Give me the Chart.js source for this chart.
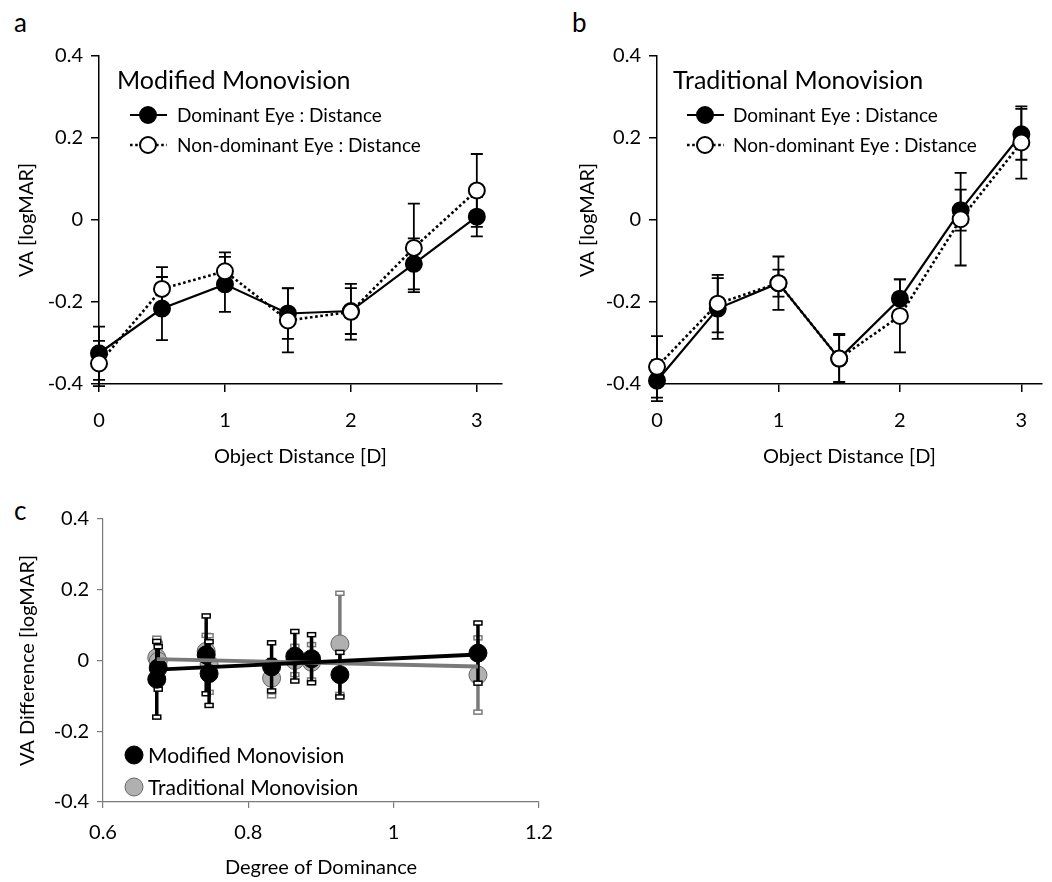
<!DOCTYPE html>
<html>
<head>
<meta charset="utf-8">
<script src="https://cdn.jsdelivr.net/npm/chart.js@4.4.1/dist/chart.umd.min.js"></script>
<style>
  body { margin: 0; background: #fff; }
  #page { position: relative; width: 1052px; height: 882px; background: #fff; font-family: Lato, sans-serif; }
  #page canvas { position: absolute; }
  .letter { position: absolute; font-size: 26px; color: #000; line-height: 1; }
</style>
</head>
<body>
<div id="page">
  <div class="letter" style="left:14px; top:9px;">a</div>
  <div class="letter" style="left:572px; top:9px;">b</div>
  <div class="letter" style="left:14px; top:497px;">c</div>
  <canvas id="chartA" width="520" height="480" style="left:0; top:0;"></canvas>
  <canvas id="chartB" width="532" height="480" style="left:520px; top:0;"></canvas>
  <canvas id="chartC" width="600" height="402" style="left:0; top:480px;"></canvas>
</div>
<script>
// object distance [D] and tick labels
const distances = [0, 0.5, 1, 1.5, 2, 2.5, 3];
const distTicks = [0, 1, 2, 3];
const vaTicks = [-0.4, -0.2, 0, 0.2, 0.4];

// a: modified monovision (mean, error)
const modDomVA = [-0.325, -0.216, -0.157, -0.228, -0.222, -0.107, 0.008];
const modDomErr = [0.065, 0.077, 0.067, 0.062, 0.056, 0.062, 0.048];
const modNonVA = [-0.350, -0.168, -0.125, -0.245, -0.224, -0.068, 0.072];
const modNonErr = [0.055, 0.053, 0.046, 0.078, 0.068, 0.108, 0.089];

// b: traditional monovision
const tradDomVA = [-0.392, -0.216, -0.154, -0.338, -0.192, 0.024, 0.209];
const tradDomErr = [0.050, 0.074, 0.065, 0.060, 0.047, 0.050, 0.062];
const tradNonVA = [-0.358, -0.204, -0.154, -0.338, -0.234, 0.002, 0.189];
const tradNonErr = [0.075, 0.070, 0.033, 0.057, 0.089, 0.113, 0.088];

// c: VA difference vs degree of dominance
const dominance = [0.674, 0.676, 0.742, 0.746, 0.832, 0.864, 0.887, 0.926, 1.116];
const domTicks = [0.6, 0.8, 1, 1.2];
const modDiff = [-0.053, -0.021, 0.016, -0.037, -0.018, 0.012, 0.005, -0.040, 0.021];
const modDiffErr = [0.107, 0.060, 0.110, 0.090, 0.068, 0.070, 0.068, 0.063, 0.085];
const tradDiff = [0.008, -0.002, 0.026, -0.010, -0.050, 0.000, -0.005, 0.047, -0.041];
const tradDiffErr = [0.055, 0.050, 0.045, 0.080, 0.050, 0.040, 0.050, 0.143, 0.105];
const fitX = [0.674, 1.116];
const modFit = [-0.026, 0.017];
const tradFit = [0.004, -0.017];

const FONT = 'Lato, sans-serif';
const GREY = '#7a7a7a';

const toPoints = (xs, ys) => xs.map((x, i) => ({x: x, y: ys[i]}));

// vertical error bars, drawn under each dataset
const errorBars = {
    id: 'errorBars',
    beforeDatasetDraw(chart, args) {
        const ds = chart.data.datasets[args.index];
        if (!ds.errors) return;
        const ctx = chart.ctx;
        const yScale = chart.scales.y;
        ctx.save();
        ctx.strokeStyle = ds.errorColor;
        ctx.lineWidth = ds.errorWidth;
        args.meta.data.forEach((el, i) => {
            const v = ds.data[i].y;
            const top = yScale.getPixelForValue(v + ds.errors[i]);
            const bot = yScale.getPixelForValue(v - ds.errors[i]);
            ctx.beginPath();
            ctx.moveTo(el.x, top);
            ctx.lineTo(el.x, bot);
            ctx.stroke();
            if (ds.capBox) {
                // little hollow caps like in panel c
                ctx.save();
                ctx.lineWidth = 1.5;
                ctx.fillStyle = '#fff';
                [top, bot].forEach(y => {
                    ctx.fillRect(el.x - 4, y - 2, 8, 4);
                    ctx.strokeRect(el.x - 4, y - 2, 8, 4);
                });
                ctx.restore();
            } else {
                ctx.beginPath();
                ctx.moveTo(el.x - 6, top); ctx.lineTo(el.x + 6, top);
                ctx.moveTo(el.x - 6, bot); ctx.lineTo(el.x + 6, bot);
                ctx.stroke();
            }
        });
        ctx.restore();
    }
};

// title + legend drawn inside the plot
const panelKey = {
    id: 'panelKey',
    afterDraw(chart, args, opts) {
        const ctx = chart.ctx;
        ctx.save();
        ctx.fillStyle = '#000';
        ctx.textBaseline = 'middle';
        if (opts.title) {
            ctx.font = '25px ' + FONT;
            ctx.fillText(opts.title, opts.titleX, opts.titleY);
        }
        opts.items.forEach((item, i) => {
            const ds = chart.data.datasets[item.dataset];
            const y = opts.itemY + i * opts.rowGap;
            if (opts.sampleLine) {
                ctx.save();
                ctx.strokeStyle = ds.borderColor;
                ctx.lineWidth = ds.borderWidth;
                ctx.setLineDash(ds.borderDash || []);
                ctx.beginPath();
                ctx.moveTo(opts.markX - 18, y);
                ctx.lineTo(opts.markX + 19, y);
                ctx.stroke();
                ctx.restore();
            }
            ctx.beginPath();
            ctx.arc(opts.markX, y, ds.pointRadius, 0, Math.PI * 2);
            ctx.fillStyle = ds.pointBackgroundColor;
            ctx.fill();
            ctx.lineWidth = ds.pointBorderWidth;
            ctx.strokeStyle = ds.pointBorderColor;
            ctx.stroke();
            ctx.fillStyle = '#000';
            ctx.font = opts.textFont;
            ctx.fillText(item.label, opts.textX, y + 1);
        });
        ctx.restore();
    }
};

function eyeDatasets(domVA, domErr, nonVA, nonErr) {
    return [
        {
            label: 'Dominant Eye : Distance',
            data: toPoints(distances, domVA),
            errors: domErr, errorColor: '#000', errorWidth: 1.8,
            borderColor: '#000', borderWidth: 2.2,
            pointRadius: 8, pointBackgroundColor: '#000', pointBorderColor: '#000', pointBorderWidth: 2,
            clip: false, order: 2
        },
        {
            label: 'Non-dominant Eye : Distance',
            data: toPoints(distances, nonVA),
            errors: nonErr, errorColor: '#000', errorWidth: 1.8,
            borderColor: '#000', borderWidth: 2.6, borderDash: [2.6, 2.6],
            pointRadius: 8, pointBackgroundColor: '#fff', pointBorderColor: '#000', pointBorderWidth: 2,
            clip: false, order: 1
        }
    ];
}

function axisFont(size) {
    return {family: FONT, size: size};
}

function eyeOptions(opt) {
    return {
        responsive: false,
        animation: false,
        events: [],
        layout: {padding: {left: 0, top: 56, right: opt.padRight, bottom: 0}},
        plugins: {
            legend: {display: false},
            tooltip: {enabled: false},
            panelKey: opt.key
        },
        scales: {
            x: {
                type: 'linear', min: 0, max: opt.xMax,
                afterBuildTicks: s => { s.ticks = distTicks.map(v => ({value: v})); },
                afterFit: s => { s.height = 96; },
                grid: {drawOnChartArea: false, color: '#000', lineWidth: 1.5, tickLength: 8},
                border: {color: '#000', width: 1.5},
                ticks: {color: '#000', font: axisFont(20), padding: 17, maxRotation: 0, callback: v => String(v)},
                title: {display: true, text: 'Object Distance [D]', color: '#000', font: axisFont(20), padding: {top: 0, bottom: 11}}
            },
            y: {
                type: 'linear', min: -0.4, max: 0.4,
                afterBuildTicks: s => { s.ticks = vaTicks.map(v => ({value: v})); },
                afterFit: s => { s.width = opt.yWidth; },
                grid: {drawOnChartArea: false, color: '#000', lineWidth: 1.5, tickLength: 8},
                border: {color: '#000', width: 1.5},
                ticks: {color: '#000', font: axisFont(20), padding: 8, callback: v => String(v)},
                title: {display: true, text: 'VA [logMAR]', color: '#000', font: axisFont(20), padding: {top: opt.yTitlePad, bottom: 0}}
            }
        }
    };
}

new Chart(document.getElementById('chartA'), {
    type: 'line',
    data: {datasets: eyeDatasets(modDomVA, modDomErr, modNonVA, modNonErr)},
    options: eyeOptions({
        xMax: 3.2, padRight: 18, yWidth: 99, yTitlePad: 15,
        key: {
            title: 'Modified Monovision', titleX: 117, titleY: 81,
            sampleLine: true, markX: 148, textX: 177, itemY: 115, rowGap: 30,
            textFont: '19px ' + FONT,
            items: [{dataset: 0, label: 'Dominant Eye : Distance'}, {dataset: 1, label: 'Non-dominant Eye : Distance'}]
        }
    }),
    plugins: [errorBars, panelKey]
});

new Chart(document.getElementById('chartB'), {
    type: 'line',
    data: {datasets: eyeDatasets(tradDomVA, tradDomErr, tradNonVA, tradNonErr)},
    options: eyeOptions({
        xMax: 3.17, padRight: 0, yWidth: 137, yTitlePad: 56,
        key: {
            title: 'Traditional Monovision', titleX: 153, titleY: 81,
            sampleLine: true, markX: 185, textX: 213, itemY: 115, rowGap: 30,
            textFont: '19px ' + FONT,
            items: [{dataset: 0, label: 'Dominant Eye : Distance'}, {dataset: 1, label: 'Non-dominant Eye : Distance'}]
        }
    }),
    plugins: [errorBars, panelKey]
});

new Chart(document.getElementById('chartC'), {
    type: 'line',
    data: {
        datasets: [
            {
                label: 'Modified fit', data: toPoints(fitX, modFit),
                borderColor: '#000', borderWidth: 3.8, pointRadius: 0, order: 0
            },
            {
                label: 'Traditional fit', data: toPoints(fitX, tradFit),
                borderColor: GREY, borderWidth: 3.8, pointRadius: 0, order: 1
            },
            {
                label: 'Modified Monovision', data: toPoints(dominance, modDiff),
                showLine: false, errors: modDiffErr, errorColor: '#000', errorWidth: 3.5, capBox: true,
                pointRadius: 9, pointBackgroundColor: '#000', pointBorderColor: '#000', pointBorderWidth: 1,
                clip: false, order: 2
            },
            {
                label: 'Traditional Monovision', data: toPoints(dominance, tradDiff),
                showLine: false, errors: tradDiffErr, errorColor: GREY, errorWidth: 3.5, capBox: true,
                pointRadius: 9, pointBackgroundColor: '#b0b0b0', pointBorderColor: '#666', pointBorderWidth: 1,
                clip: false, order: 3
            }
        ]
    },
    options: {
        responsive: false,
        animation: false,
        events: [],
        layout: {padding: {left: 0, top: 39, right: 61, bottom: 0}},
        plugins: {
            legend: {display: false},
            tooltip: {enabled: false},
            panelKey: {
                sampleLine: false, markX: 134, textX: 148, itemY: 275, rowGap: 32,
                textFont: '21px ' + FONT,
                items: [{dataset: 2, label: 'Modified Monovision'}, {dataset: 3, label: 'Traditional Monovision'}]
            }
        },
        scales: {
            x: {
                type: 'linear', min: 0.6, max: 1.2,
                afterBuildTicks: s => { s.ticks = domTicks.map(v => ({value: v})); },
                afterFit: s => { s.height = 80; },
                grid: {drawOnChartArea: false, color: GREY, lineWidth: 1.2, tickLength: 6},
                border: {color: GREY, width: 1.2},
                ticks: {color: '#000', font: axisFont(20), padding: 13, maxRotation: 0, callback: v => String(v)},
                title: {display: true, text: 'Degree of Dominance', color: '#000', font: axisFont(20), padding: {top: 0, bottom: 2}}
            },
            y: {
                type: 'linear', min: -0.4, max: 0.4,
                afterBuildTicks: s => { s.ticks = vaTicks.map(v => ({value: v})); },
                afterFit: s => { s.width = 103; },
                grid: {drawOnChartArea: false, color: GREY, lineWidth: 1.2, tickLength: 6},
                border: {color: GREY, width: 1.2},
                ticks: {color: '#000', font: axisFont(20), padding: 8, callback: v => String(v)},
                title: {display: true, text: 'VA Difference [logMAR]', color: '#000', font: axisFont(20), padding: {top: 16, bottom: 0}}
            }
        }
    },
    plugins: [errorBars, panelKey]
});
</script>
</body>
</html>
